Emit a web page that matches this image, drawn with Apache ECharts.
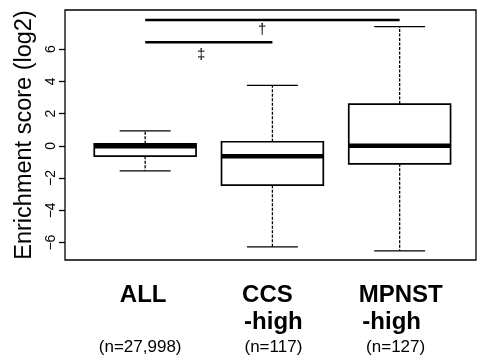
<!DOCTYPE html>
<html><head><meta charset="utf-8">
<script src="https://cdn.jsdelivr.net/npm/echarts@6/dist/echarts.min.js"></script>
<style>html,body{margin:0;padding:0;background:#fff}#c{width:480px;height:358px}</style>
</head><body><div id="c"></div>
<script>
// ---- data ----
const categories = ['ALL', 'CCS', 'MPNST'];
const categorySub = ['', '-high', '-high'];
const sampleSizes = ['(n=27,998)', '(n=117)', '(n=127)'];
const whiskerLow = [-1.55, -6.27, -6.52];
const quartile1 = [-0.64, -2.44, -1.12];
const medians = [-0.02, -0.64, 0.0];
const quartile3 = [0.12, 0.25, 2.59];
const whiskerHigh = [0.93, 3.75, 7.39];
const yTickValues = [-6, -4, -2, 0, 2, 4, 6];
const bracketFrom = [1, 1];
const bracketTo = [3, 2];
const bracketLevel = [7.8, 6.42];
const markSymbols = ['\u2020', '\u2021'];
const markX = [1.92, 1.44];
const markY = [7.19, 5.63];

// ---- layout / style ----
const FONT = '"Liberation Sans", Arial, Helvetica, sans-serif';
const labelShift = [[-2, 0, -5], [-5, 1, 1], [1, -8, -4]];

const rich = {};
categories.forEach((c, i) => {
  [0, 1, 2].forEach(j => {
    const s = labelShift[i][j];
    const base = j < 2
      ? { fontFamily: FONT, fontWeight: 'bold', fontSize: 24, lineHeight: 27, color: '#000' }
      : { fontFamily: FONT, fontSize: 17, lineHeight: 24, color: '#000' };
    base.padding = s < 0 ? [0, -2 * s, 0, 0] : [0, 0, 0, 2 * s];
    rich['t' + i + '_' + j] = base;
  });
});

function renderBox(params, api) {
  const x = api.value(0);
  const pLo = api.coord([x, api.value(1)]);
  const pQ1 = api.coord([x, api.value(2)]);
  const pMd = api.coord([x, api.value(3)]);
  const pQ3 = api.coord([x, api.value(4)]);
  const pHi = api.coord([x, api.value(5)]);
  const hw = api.size([0.4, 0])[0];
  const cx = pLo[0];
  const dash = { stroke: '#000', lineWidth: 1.3, lineDash: [3, 1.5], fill: null };
  const solid = { stroke: '#000', lineWidth: 1.3, fill: null };
  return { type: 'group', children: [
    { type: 'line', shape: { x1: cx, y1: pQ3[1], x2: cx, y2: pHi[1] }, style: dash },
    { type: 'line', shape: { x1: cx, y1: pQ1[1], x2: cx, y2: pLo[1] }, style: dash },
    { type: 'line', shape: { x1: cx - hw / 2, y1: pHi[1], x2: cx + hw / 2, y2: pHi[1] }, style: solid },
    { type: 'line', shape: { x1: cx - hw / 2, y1: pLo[1], x2: cx + hw / 2, y2: pLo[1] }, style: solid },
    { type: 'rect', shape: { x: cx - hw, y: pQ3[1], width: 2 * hw, height: pQ1[1] - pQ3[1] },
      style: { fill: '#fff', stroke: '#000', lineWidth: 1.7 } },
    { type: 'line', shape: { x1: cx - hw, y1: pMd[1], x2: cx + hw, y2: pMd[1] },
      style: { stroke: '#000', lineWidth: 4.5 } }
  ]};
}

function renderBracket(params, api) {
  const a = api.coord([api.value(0), api.value(2)]);
  const b = api.coord([api.value(1), api.value(2)]);
  return { type: 'line', shape: { x1: a[0], y1: a[1], x2: b[0], y2: b[1] },
    style: { stroke: '#000', lineWidth: 2.5 } };
}

function renderMark(params, api) {
  const p = api.coord([api.value(0), api.value(1)]);
  return { type: 'text', x: p[0], y: p[1],
    style: { text: markSymbols[params.dataIndex], fill: '#000', font: '15px ' + FONT,
      align: 'center', verticalAlign: 'middle' } };
}

const chart = echarts.init(document.getElementById('c'), null, { renderer: 'canvas' });
chart.setOption({
  animation: false,
  backgroundColor: '#fff',
  grid: { left: 65, right: 4, top: 10, bottom: 98, show: true, borderColor: '#000', borderWidth: 1.3, backgroundColor: 'transparent' },
  xAxis: {
    type: 'value', min: 0.37, max: 3.6,
    splitLine: { show: false },
    axisLine: { show: false },
    axisTick: { show: true, customValues: [1, 2, 3], length: 6, lineStyle: { color: '#000', width: 1.3 } },
    axisLabel: {
      customValues: [1, 2, 3], margin: 21.5, color: '#000',
      formatter: v => {
        const i = Math.round(v) - 1;
        if (i < 0 || i >= categories.length) return '';
        return '{t' + i + '_0|' + categories[i] + '}\n{t' + i + '_1|' + (categorySub[i] || ' ') + '}\n{t' + i + '_2|' + sampleSizes[i] + '}';
      },
      rich: rich
    }
  },
  yAxis: {
    type: 'value', min: -7.08, max: 8.42,
    splitLine: { show: false },
    axisLine: { show: false },
    axisTick: { show: true, customValues: yTickValues, length: 6, lineStyle: { color: '#000', width: 1.3 } },
    axisLabel: {
      customValues: yTickValues, rotate: 90, margin: 7, color: '#000', fontSize: 14, fontFamily: FONT,
      formatter: v => (v < 0 ? '\u2212' + (-v) : String(v))
    },
    name: 'Enrichment score (log2)', nameLocation: 'middle', nameGap: 23,
    nameTextStyle: { fontSize: 23.5, fontFamily: FONT, color: '#000' }
  },
  series: [
    { type: 'custom', renderItem: renderBox, silent: true,
      encode: { x: 0, y: [1, 2, 3, 4, 5] },
      data: categories.map((c, i) => [i + 1, whiskerLow[i], quartile1[i], medians[i], quartile3[i], whiskerHigh[i]]) },
    { type: 'custom', renderItem: renderBracket, silent: true,
      encode: { x: [0, 1], y: 2 },
      data: bracketFrom.map((f, i) => [f, bracketTo[i], bracketLevel[i]]) },
    { type: 'custom', renderItem: renderMark, silent: true,
      encode: { x: 0, y: 1 },
      data: markX.map((x, i) => [x, markY[i]]) }
  ]
});
</script></body></html>
